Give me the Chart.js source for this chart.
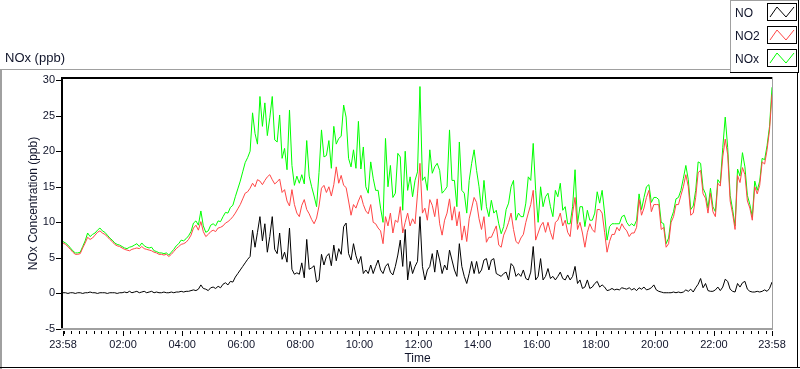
<!DOCTYPE html>
<html>
<head>
<meta charset="utf-8">
<script src="https://cdn.jsdelivr.net/npm/chart.js@4.4.1/dist/chart.umd.min.js"></script>
<style>
  html, body { margin: 0; padding: 0; background: #fff; }
  #wrap { width: 800px; height: 369px; }
</style>
</head>
<body>
<div id="wrap"><canvas id="graph" width="800" height="369"></canvas></div>
<script>
// samples every 5 minutes, starting 23:58 of the previous day
const timeStep = 5;

const xTickValues = [0, 122, 242, 362, 482, 602, 722, 842, 962, 1082, 1202, 1322, 1440];
const xTickLabels = ["23:58", "02:00", "04:00", "06:00", "08:00", "10:00", "12:00",
                     "14:00", "16:00", "18:00", "20:00", "22:00", "23:58"];
const yTickValues = [-5, 0, 5, 10, 15, 20, 25, 30];

const seriesNames = ["NO", "NO2", "NOx"];
const seriesColors = ["#000000", "#ff4646", "#00ff00"];

const no = [
  0.1,0.1,0.0,0.1,0.1,0.0,0.1,0.1,0.0,0.1, 0.1,0.2,0.1,0.1,0.0,0.1,0.1,0.1,0.0,0.1,
  0.1,0.1,0.0,0.1,0.1,0.2,0.1,0.3,0.1,0.2, 0.3,0.1,0.2,0.3,0.1,0.2,0.3,0.1,0.2,0.1,
  0.1,0.2,0.1,0.1,0.2,0.1,0.2,0.2,0.3,0.2, 0.3,0.3,0.4,0.5,0.4,0.6,1.2,0.7,
  0.6,0.4,0.8,0.9,0.7,1.0,0.8,1.3,1.5,1.2, 1.7,1.6,2.3,2.8,3.3,3.8,4.3,4.8,5.2,8.9,
  6.5,8.6,10.8,7.4,9.8,5.8,8.0,10.8,6.2,5.6, 8.5,4.8,5.8,4.4,9.2,3.4,2.7,2.9,2.7,4.3,
  2.2,7.6,3.4,3.6,3.9,1.6,1.9,5.5,4.0,5.2, 5.6,3.9,6.8,4.6,6.3,5.5,9.4,
  9.9,5.6,4.7,7.0,5.3,4.2,5.2,2.8,3.3,2.8, 4.0,2.8,3.8,4.7,3.3,2.8,3.8,4.2,3.0,2.6,
  3.8,5.4,7.5,3.8,9.0,1.9,4.5,2.8,3.8,4.5, 10.8,3.8,1.9,3.3,3.8,5.6,3.0,6.1,4.7,2.8,
  4.0,3.3,6.1,4.7,3.3,2.4,7.0,3.8,2.4,1.4, 2.8,4.5,2.8,4.5,2.8,3.3,4.7,
  4.9,3.3,4.7,4.9,2.8,2.6,2.4,2.8,3.0,1.9, 4.2,3.8,2.4,2.8,2.4,3.3,2.1,1.9,3.0,6.6,
  1.9,2.4,4.9,1.9,2.4,3.5,2.1,2.4,1.9,2.4, 3.0,2.1,1.9,2.6,1.9,2.4,3.8,1.4,1.9,0.7,
  0.9,1.9,0.7,0.9,1.4,1.7,0.9,1.2,0.9,0.4, 0.5,0.7,0.5,0.6,0.5,0.8,0.7,
  0.6,0.8,0.5,0.7,0.4,0.8,0.6,0.9,0.5,0.6, 0.8,1.2,0.5,0.3,0.2,0.1,0.1,0.1,0.1,0.2,
  0.1,0.2,0.1,0.2,0.5,0.3,0.6,0.2,0.8,1.3, 2.1,0.8,1.4,0.4,0.3,0.3,0.5,0.9,0.4,0.9,
  2.0,1.7,0.6,0.3,0.2,1.4,0.9,1.5,1.7,0.6, 0.3,0.2,0.2,0.3,0.2,0.3,0.5,0.3,0.7,1.6
];

const no2 = [
  7.1,6.9,6.6,6.2,5.8,5.5,5.5,5.6,6.4,7.1, 7.9,7.6,7.8,8.2,8.6,8.8,8.5,8.3,8.0,7.6,
  7.3,6.9,6.7,6.6,6.4,6.2,6.1,6.0,6.2,6.3, 6.4,6.3,6.6,6.3,6.2,6.1,6.0,5.8,5.7,5.5,
  5.5,5.4,5.5,5.2,5.5,5.9,6.3,6.6,6.9,7.0, 7.2,7.6,8.2,9.2,9.6,8.9,10.1,8.7,
  8.0,8.3,8.7,8.9,8.7,9.2,9.3,9.5,9.9,10.1, 10.4,10.8,11.3,11.9,12.5,13.3,14.1,14.3,14.8,15.5,
  15.0,16.0,15.8,15.3,15.9,16.4,16.7,16.0,15.4,15.7, 16.1,14.2,14.6,13.0,12.3,14.6,12.5,11.3,10.8,12.4,
  13.2,11.8,11.2,10.4,9.8,10.6,12.3,14.8,15.2,14.2, 15.0,13.7,15.3,17.8,15.5,16.6,15.2,
  14.9,13.0,11.0,12.5,12.0,13.0,13.8,12.5,11.6,11.2, 12.5,10.0,9.8,9.2,8.8,7.0,10.8,9.5,11.3,8.5,
  10.3,10.0,12.2,8.5,10.0,11.3,9.5,10.5,9.8,14.0, 18.3,11.3,12.0,10.3,13.2,12.4,10.8,13.3,9.8,8.2,
  10.3,11.3,13.3,10.3,12.2,9.5,11.5,7.5,9.5,7.3, 10.5,12.0,13.5,12.8,10.5,9.0,10.8,
  7.2,7.9,7.9,8.7,9.5,6.8,6.5,8.2,9.0,10.0, 11.3,9.0,7.3,7.0,7.8,8.3,10.0,11.3,12.5,14.5,
  7.5,8.5,9.5,10.0,8.6,10.0,8.6,7.6,10.0,10.3, 11.3,9.5,10.3,8.6,8.0,11.3,13.5,9.0,10.0,8.5,
  6.5,8.6,9.8,9.0,8.6,11.8,11.8,11.3,8.6,5.8, 7.3,8.3,8.3,9.3,8.8,9.8,9.2,
  8.8,8.0,8.5,8.5,9.3,13.2,11.0,12.0,13.5,14.5, 11.5,12.5,12.5,12.5,9.0,9.3,6.5,7.0,10.0,10.8,
  12.5,12.5,13.8,15.0,16.7,15.0,11.0,11.3,13.5,17.0, 17.3,14.0,13.4,11.3,14.1,11.5,10.8,15.5,15.1,19.2,
  21.7,19.5,13.0,11.2,9.0,16.6,15.6,17.7,16.7,13.0, 12.0,10.3,15.0,14.0,15.2,18.5,18.2,20.2,23.0,28.0
];

const nox = [
  7.3,7.1,6.8,6.4,6.0,5.7,5.7,5.8,6.6,7.4, 8.5,8.0,8.3,8.5,8.9,9.2,8.8,8.6,8.2,7.8,
  7.5,7.1,6.9,6.8,6.6,6.4,6.3,6.5,6.6,6.8, 7.0,6.6,7.1,6.7,6.5,6.4,6.5,6.0,5.9,5.7,
  5.7,5.6,5.7,5.4,5.8,6.2,6.7,7.0,7.5,7.4, 7.7,8.1,8.7,9.9,10.2,9.6,11.6,9.5,
  8.6,8.8,9.6,9.8,9.5,10.2,10.1,10.8,11.4,11.3, 12.1,12.4,13.6,14.7,15.8,17.1,18.4,19.1,20.0,25.4,
  22.5,21.0,27.7,23.5,26.8,22.2,24.7,27.7,21.6,21.3, 25.1,19.0,20.4,17.4,25.8,18.0,15.2,16.5,15.5,16.7,
  15.4,21.5,16.5,15.0,13.7,12.2,17.0,23.0,19.2,19.4, 21.5,17.6,23.5,21.0,21.8,22.1,26.5,
  24.8,19.0,17.8,20.2,17.6,24.2,17.5,20.6,15.0,14.1, 18.5,16.2,14.5,14.5,12.0,10.0,21.8,15.0,18.0,13.5,
  14.1,19.7,19.2,11.7,20.0,14.5,16.4,13.6,15.9,17.1, 29.1,15.9,16.4,14.5,20.2,16.9,17.8,18.3,17.3,14.1,
  14.5,15.0,23.0,15.9,15.9,12.2,21.3,14.5,14.1,11.3, 15.9,18.3,20.2,17.3,15.0,11.7,15.9,
  12.2,10.8,13.1,11.3,11.7,9.8,8.4,9.4,11.8,12.7, 15.0,15.9,10.3,11.3,10.8,10.8,12.7,16.4,15.9,21.1,
  14.5,10.0,15.0,12.2,13.6,14.1,12.2,10.8,14.5,13.6, 15.5,11.7,12.2,9.8,9.8,12.2,17.4,9.8,12.2,12.2,
  9.4,11.7,10.3,10.3,11.3,14.3,12.7,14.5,11.3,7.5, 9.4,9.8,9.8,9.8,9.8,10.8,11.0,
  10.0,9.5,9.8,9.5,10.3,14.0,11.8,13.5,15.0,15.3, 12.8,13.5,13.5,13.2,10.0,9.8,7.0,7.8,10.5,11.5,
  13.3,13.5,14.5,16.2,18.0,16.0,11.8,12.3,14.5,18.5, 18.3,14.8,14.0,12.0,14.8,12.2,11.5,16.0,15.5,20.5,
  24.8,20.5,13.8,11.8,9.5,17.5,16.5,19.8,17.8,13.8, 12.5,10.8,15.8,14.5,15.8,19.0,18.8,20.8,23.5,29.0
];

const fontFamily = "'Liberation Sans', Arial, sans-serif";
const textColor = "#10142a";

function toPoints(values) {
  return values.map((v, i) => ({ x: i * timeStep, y: v }));
}

// LabVIEW-style panel: frames, tick marks, plot name and plot legend
const panel = {
  id: "panel",
  beforeDraw(chart) {
    const ctx = chart.ctx;
    ctx.save();
    ctx.fillStyle = "#fff";
    ctx.fillRect(0, 0, chart.width, chart.height);
    ctx.restore();
  },
  afterDraw(chart) {
    const ctx = chart.ctx;
    const area = chart.chartArea;
    const xs = chart.scales.x;
    const ys = chart.scales.y;
    ctx.save();

    // outer frame
    ctx.fillStyle = "#a0a0a0";
    ctx.fillRect(0, 69, 730, 1);
    ctx.fillRect(0, 69, 2, 300);
    ctx.fillStyle = "#000";
    ctx.fillRect(0, 367, 800, 1);
    ctx.fillRect(797, 72, 1, 296);

    // plot frame
    ctx.fillStyle = "#000";
    ctx.fillRect(area.left - 2, area.top - 1, area.right - area.left + 2, 2);
    ctx.fillRect(area.left - 2, area.top - 1, 2, area.bottom - area.top + 1);
    ctx.fillStyle = "#a0a0a0";
    ctx.fillRect(area.right, area.top - 1, 1, area.bottom - area.top + 1);
    ctx.fillRect(area.left - 2, area.bottom - 1, area.right - area.left + 3, 2);

    // x ticks: majors and 15 minute minors
    ctx.fillStyle = "#000";
    xTickValues.forEach(v => {
      ctx.fillRect(Math.round(xs.getPixelForValue(v)), area.bottom + 2, 1, 5);
    });
    for (let t = 2; t < 1440; t += 15) {
      ctx.fillRect(Math.round(xs.getPixelForValue(t)), area.bottom + 2, 1, 3);
    }
    // y ticks
    yTickValues.forEach(v => {
      ctx.fillRect(area.left - 7, Math.round(ys.getPixelForValue(v)), 5, 1);
    });

    // plot name
    ctx.fillStyle = textColor;
    ctx.textBaseline = "alphabetic";
    ctx.textAlign = "left";
    ctx.font = "13px " + fontFamily;
    ctx.fillText("NOx (ppb)", 5, 62);

    // plot legend
    ctx.fillStyle = "#a0a0a0";
    ctx.fillRect(730, 0, 1, 73);
    ctx.fillRect(730, 0, 69, 1);
    ctx.fillStyle = "#000";
    ctx.fillRect(730, 72, 69, 1);
    ctx.fillRect(798, 0, 1, 73);
    ctx.font = "12px " + fontFamily;
    seriesNames.forEach((name, k) => {
      const top = 3 + k * 23;
      ctx.fillStyle = textColor;
      ctx.fillText(name, 735, top + 14);
      ctx.strokeStyle = "#000";
      ctx.lineWidth = 1;
      ctx.strokeRect(767.5, top + 0.5, 29, 17);
      ctx.strokeStyle = seriesColors[k];
      ctx.beginPath();
      ctx.moveTo(770, top + 14);
      ctx.lineTo(777, top + 4);
      ctx.lineTo(786, top + 14);
      ctx.lineTo(794, top + 4);
      ctx.stroke();
    });
    ctx.restore();
  }
};

new Chart(document.getElementById("graph"), {
  type: "line",
  data: {
    datasets: [
      { label: seriesNames[0], data: toPoints(no), borderColor: seriesColors[0] },
      { label: seriesNames[1], data: toPoints(no2), borderColor: seriesColors[1] },
      { label: seriesNames[2], data: toPoints(nox), borderColor: seriesColors[2] }
    ]
  },
  options: {
    responsive: false,
    animation: false,
    layout: { padding: { left: 0, right: 28, top: 78, bottom: 0 } },
    elements: {
      point: { radius: 0 },
      line: { borderWidth: 1, tension: 0, fill: false }
    },
    plugins: {
      legend: { display: false },
      tooltip: { enabled: false }
    },
    scales: {
      x: {
        type: "linear",
        min: 0,
        max: 1440,
        grid: { display: false, drawTicks: false },
        border: { display: false },
        afterBuildTicks: s => { s.ticks = xTickValues.map(v => ({ value: v })); },
        afterFit: s => { s.height = 40; },
        ticks: {
          autoSkip: false,
          maxRotation: 0,
          padding: 9,
          color: textColor,
          font: { family: fontFamily, size: 11 },
          callback: (v, i) => xTickLabels[i]
        },
        title: {
          display: true,
          text: "Time",
          color: textColor,
          font: { family: fontFamily, size: 12 },
          padding: { top: 0, bottom: 3 }
        }
      },
      y: {
        min: -5,
        max: 30.3,
        grid: { display: false, drawTicks: false },
        border: { display: false },
        afterBuildTicks: s => { s.ticks = yTickValues.map(v => ({ value: v })); },
        afterFit: s => { s.width = 63; },
        ticks: {
          padding: 8,
          color: textColor,
          font: { family: fontFamily, size: 11 }
        },
        title: {
          display: true,
          text: "NOx Concentration (ppb)",
          color: textColor,
          font: { family: fontFamily, size: 12 },
          padding: { top: 26, bottom: 0 }
        }
      }
    }
  },
  plugins: [panel]
});
</script>
</body>
</html>
